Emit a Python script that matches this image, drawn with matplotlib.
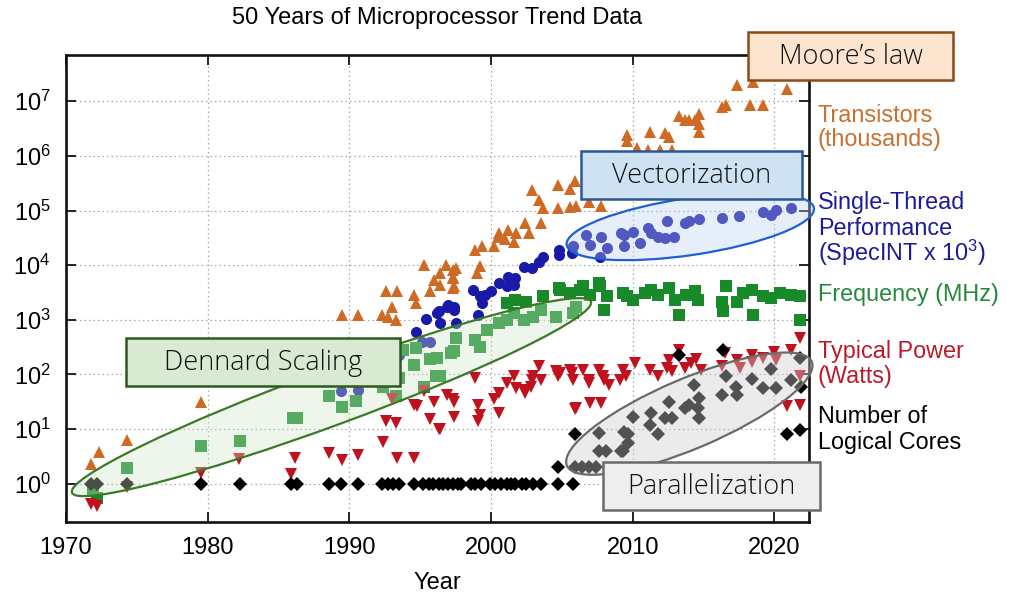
import matplotlib
matplotlib.use('Agg')
import matplotlib.pyplot as plt
from matplotlib.patches import Ellipse, Rectangle
from matplotlib.transforms import IdentityTransform

plt.rcParams['font.family'] = ['Liberation Sans', 'DejaVu Sans']
plt.rcParams['mathtext.fontset'] = 'custom'
plt.rcParams['mathtext.rm'] = 'Liberation Sans'
plt.rcParams['mathtext.it'] = 'Liberation Sans:italic'
plt.rcParams['mathtext.bf'] = 'Liberation Sans:bold'

# ---------------- data ----------------
trans_year = [1971.8, 1972.3, 1974.3, 1979.5, 1989.5, 1990.6, 1992.3, 1992.6, 1992.7, 1993.0,
              1993.3, 1993.4, 1994.6, 1994.7, 1995.3, 1995.7, 1996.0, 1996.4, 1996.4, 1996.8,
              1997.3, 1997.3, 1997.3, 1997.5, 1997.3, 1997.4, 1998.9, 1999.0, 1999.2, 1999.4,
              2000.2, 2000.5, 2000.6, 2001.0, 2001.2, 2001.6, 2001.8, 2002.4, 2002.7, 2003.5,
              2002.9, 2003.4, 2003.7, 2004.7, 2004.7, 2005.6, 2005.9, 2005.6, 2006.0, 2006.9,
              2007.8, 2009.6, 2009.6, 2010.3, 2011.2, 2011.1, 2011.9, 2012.3, 2012.6, 2012.8,
              2013.3, 2013.7, 2014.0, 2014.4, 2014.7, 2014.7, 2014.7, 2016.3, 2016.6, 2017.4,
              2018.5, 2018.3, 2019.2, 2020.9]
trans_val = [2.3, 3.8, 6.4, 31, 1230, 1230, 1230, 3400, 1150, 1700,
             1000, 3400, 2900, 2000, 10000, 3400, 5400, 7100, 4400, 10000,
             8200, 5800, 3800, 8800, 6200, 4100, 19000, 7300, 9700, 22000,
             22000, 33000, 39000, 30000, 44000, 27000, 39000, 59000, 39000, 59000,
             235000, 155000, 110000, 295000, 110000, 245000, 340000, 117000, 120000, 145000,
             120000, 2.4e6, 1.9e6, 1.4e6, 2.7e6, 1.26e6, 1.26e6, 2.6e6, 2.2e6, 1.3e6,
             5.4e6, 4.5e6, 4.5e6, 4.5e6, 5.9e6, 3.9e6, 2.7e6, 7.7e6, 8.5e6, 2.0e7,
             2.2e7, 8.5e6, 8.5e6, 1.7e7]

perf_year = [1989.4, 1990.6, 1993.5, 1994.7, 1995.1, 1995.7, 1995.4, 1996.2, 1996.3, 1996.4,
             1996.9, 1997.0, 1997.4, 1997.4, 1997.5, 1998.7, 1999.2, 1999.4, 1999.1, 1999.6,
             2000.0, 2000.6, 2001.1, 2001.2, 2001.6, 2001.7, 2002.3, 2002.9, 2003.4, 2003.7,
             2004.8, 2004.8, 2005.7, 2005.8, 2006.7, 2007.0, 2007.7, 2007.8, 2008.2, 2009.2,
             2009.4, 2009.4, 2010.0, 2010.5, 2011.1, 2011.3, 2011.8, 2012.3, 2012.4, 2012.9,
             2013.7, 2014.0, 2014.7, 2016.3, 2017.5, 2019.2, 2019.8, 2020.1, 2021.2]
perf_val = [49, 53, 230, 600, 400, 400, 1030, 1320, 1420, 870,
            1750, 1900, 1750, 1520, 870, 3500, 2700, 2000, 1230, 2900,
            3300, 4700, 4100, 6200, 4400, 5800, 9400, 8800, 11600, 14400,
            19000, 15500, 16600, 22000, 35600, 23500, 14400, 33000, 20400, 38000,
            22000, 35600, 41000, 25000, 47000, 38000, 33000, 32000, 63000, 33000,
            59000, 63000, 69000, 74000, 79000, 95000, 83000, 102000, 110000]

freq_year = [1971.9, 1972.2, 1974.3, 1979.5, 1982.3, 1986.0, 1986.3, 1988.6, 1989.5, 1990.5,
             1992.4, 1993.3, 1993.5, 1993.8, 1994.6, 1994.7, 1995.3, 1995.7, 1996.1, 1996.4,
             1996.2, 1997.2, 1997.4, 1997.5, 1998.9, 1999.2, 1999.7, 2000.6, 2001.1, 2001.6,
             2002.3, 2003.0, 2003.5, 2004.6, 2005.8, 2006.0, 2001.1, 2001.7, 2002.5, 2003.7,
             2004.8, 2004.9, 2005.6, 2006.3, 2006.5, 2007.0, 2007.6, 2007.7, 2008.0, 2008.2,
             2009.3, 2009.6, 2010.0, 2010.9, 2011.3, 2011.8, 2012.6, 2013.0, 2013.3, 2013.8,
             2014.4, 2014.6, 2016.3, 2016.4, 2016.6, 2017.4, 2017.8, 2018.4, 2018.5, 2019.2,
             2019.8, 2020.4, 2021.2, 2021.8, 2021.8]
freq_val = [0.73, 0.55, 1.96, 5, 6, 16, 16, 40, 25, 33,
            60, 40, 87, 280, 150, 300, 60, 190, 92, 92,
            200, 250, 265, 460, 435, 325, 660, 870, 1000, 1320,
            1000, 1150, 1520, 1150, 1320, 1750, 2000, 2300, 2150, 2700,
            3800, 3500, 3100, 3500, 4100, 2900, 4700, 4100, 1520, 2700,
            3100, 2700, 2300, 3100, 3500, 2900, 3800, 2300, 1230, 2900,
            3300, 2300, 2150, 1420, 4100, 2150, 3100, 3500, 1230, 2700,
            2500, 3100, 2900, 2700, 1000]

power_year = [1971.8, 1972.2, 1974.3, 1979.5, 1982.2, 1985.9, 1986.2, 1988.6, 1989.5, 1990.6,
              1992.4, 1992.6, 1993.0, 1993.3, 1993.4, 1994.6, 1994.6, 1994.8, 1995.3, 1995.7,
              1996.0, 1996.3, 1996.4, 1996.9, 1997.3, 1997.4, 1997.4, 1998.9, 1999.1, 1999.1,
              1999.2, 2000.2, 2000.6, 2000.6, 2001.1, 2001.6, 2001.8, 2002.3, 2002.4, 2002.8,
              2002.9, 2003.0, 2003.4, 2003.5, 2004.6, 2004.7, 2004.9, 2005.6, 2005.7, 2005.8,
              2005.9, 2006.0, 2006.5, 2006.9, 2006.9, 2007.0, 2007.6, 2007.8, 2007.9, 2008.0,
              2008.3, 2009.1, 2009.3, 2009.5, 2010.2, 2011.2, 2011.8, 2012.4, 2012.6, 2012.8,
              2013.3, 2013.7, 2014.1, 2014.5, 2014.8, 2016.3, 2016.5, 2017.4, 2017.6, 2018.4,
              2018.4, 2019.2, 2020.0, 2020.1, 2021.2, 2021.8, 2021.8, 2020.9, 2021.8]
power_val = [0.42, 0.39, 0.88, 1.6, 2.9, 1.5, 3.0, 3.7, 2.7, 3.3,
             5.7, 14, 35, 13, 3.0, 3.0, 28, 26, 49, 15.5,
             32, 10, 10, 43, 35, 17, 32, 87, 28, 14,
             18.5, 35, 46, 20, 70, 92, 56, 53, 46, 60,
             80, 92, 145, 80, 115, 92, 107, 123, 107, 80,
             23, 24, 123, 70, 80, 30, 123, 30, 92, 80,
             65, 80, 123, 92, 162, 123, 92, 132, 186, 115,
             283, 132, 162, 195, 123, 140, 245, 186, 132, 230,
             170, 200, 263, 186, 283, 465, 92, 26, 28]

cores_year = [1971.8, 1972.2, 1974.3, 1979.5, 1982.3, 1985.9, 1986.3, 1988.6, 1989.4, 1990.6,
              1992.3, 1992.7, 1993.1, 1993.5, 1994.6, 1995.2, 1995.6, 1995.9, 1996.3, 1996.6,
              1997.0, 1997.3, 1997.7, 1997.9, 1998.6, 1998.9, 1999.3, 1999.9, 2000.3, 2000.7,
              2001.1, 2001.4, 2001.7, 2002.2, 2002.5, 2003.0, 2003.5, 2004.7, 2005.8,
              2004.7, 2005.9, 2005.9, 2006.4, 2006.9, 2007.4, 2007.6, 2007.6, 2008.1, 2009.2,
              2009.3, 2009.4, 2009.7, 2009.7, 2010.0, 2011.2, 2011.3, 2011.8, 2012.3, 2012.8,
              2012.6, 2013.3, 2013.7, 2014.0, 2014.7, 2014.6, 2014.7, 2014.3, 2016.3, 2016.4,
              2016.6, 2017.3, 2017.4, 2018.4, 2019.2, 2019.8, 2020.1, 2021.2, 2021.8, 2021.9,
              2020.9, 2021.8]
cores_val = [1, 1, 1, 1, 1, 1, 1, 1, 1, 1,
             1, 1, 1, 1, 1, 1, 1, 1, 1, 1,
             1, 1, 1, 1, 1, 1, 1, 1, 1, 1,
             1, 1, 1, 1, 1, 1, 1, 1, 1,
             2, 8.2, 2, 2, 2, 2, 4, 8.5, 4, 4,
             4, 9, 8, 5.6, 17, 12, 20, 8, 16, 16,
             32, 230, 24.5, 28, 37, 24, 16, 65, 43, 283,
             92, 60, 43, 83, 56, 126, 56, 80, 200, 60,
             8, 9.8]

series_labels = [["Transistors", "(thousands)"],
                 ["Single-Thread", "Performance", "(SpecINT x 10$^3$)"],
                 ["Frequency (MHz)"],
                 ["Typical Power", "(Watts)"],
                 ["Number of", "Logical Cores"]]
year_ticks = [1970, 1980, 1990, 2000, 2010, 2020]
decade_ticks = [1, 10, 100, 1e3, 1e4, 1e5, 1e6, 1e7]

# ---------------- style ----------------
ORANGE = '#cf6a24'
BLUE = '#1a1aa8'
GREEN = '#188a2a'
RED = '#c0111e'
BLACK = '#000000'
label_colors = ['#c8702e', '#1c1c98', '#24893a', '#bb1a2a', '#000000']

W, H = 1012, 597
fig = plt.figure(figsize=(W / 100, H / 100), dpi=100)
ax = fig.add_axes([66 / W, 1 - 522 / H, (809 - 66) / W, (522 - 55) / H])
ax.set_yscale('log')
ax.set_xlim(1970, 2022.45)
ax.set_ylim(0.2, 7e7)

ax.plot(trans_year, trans_val, ls='none', marker='^', ms=8, mew=0, color=ORANGE, zorder=3)
ax.plot(perf_year, perf_val, ls='none', marker='o', ms=8, mew=0, color=BLUE, zorder=3)
ax.plot(freq_year, freq_val, ls='none', marker='s', ms=8, mew=0, color=GREEN, zorder=3)
ax.plot(power_year, power_val, ls='none', marker='v', ms=8, mew=0, color=RED, zorder=3)
ax.plot(cores_year, cores_val, ls='none', marker='D', ms=6.8, mew=0, color=BLACK, zorder=3)

ax.set_xticks(year_ticks)
ax.set_xticklabels([str(y) for y in year_ticks])
ax.set_yticks(decade_ticks)
ax.set_yticklabels([r'$\mathregular{10^{%d}}$' % i for i in range(len(decade_ticks))])
ax.minorticks_off()
ax.tick_params(which='major', direction='in', length=7, width=1.4, labelsize=17,
               top=True, right=True, color='#222222')
ax.tick_params(axis='x', pad=11)
ax.tick_params(axis='y', pad=11)
for s in ax.spines.values():
    s.set_linewidth(1.9)
    s.set_color('#111111')
ax.grid(True, which='major', color='#a8a8a8', lw=0.9, ls=(0, (1.2, 2.4)))
ax.set_axisbelow(True)

fig.text(437 / W, 1 - 18 / H, '50 Years of Microprocessor Trend Data', ha='center', va='center',
         fontsize=17)
fig.text(437 / W, 1 - 583 / H, 'Year', ha='center', va='center', fontsize=17)

# ellipses (anchored on data coordinates, sized in pixels)
ellipses = [
    (1988.74, 38.5, 553, 56, 20.2, (0.81, 0.90, 0.79, 0.35), '#3a7a26'),
    (2014.07, 51000, 250, 57, 8.5, (0.72, 0.81, 0.95, 0.35), '#1f5fd4'),
    (2014.0, 19.2, 266, 70, 23.0, (0.81, 0.81, 0.81, 0.40), '#6a6a6a'),
]
for cx, cy, w, h, ang, fc, ec in ellipses:
    px, py = ax.transData.transform((cx, cy))
    e = Ellipse((px, py), w, h, angle=ang, transform=IdentityTransform(),
                facecolor=fc, edgecolor=ec, lw=1.6, zorder=4, clip_on=False)
    ax.add_artist(e)

# annotation boxes (image pixel coords)
boxes = [
    (748, 32, 953, 80, '#fde4cf', '#8a4b14', "Moore\u2019s law"),
    (581, 151, 802, 199, '#cfe2f3', '#2b5797', 'Vectorization'),
    (126, 338, 400, 386, '#d9ead3', '#2d5a1e', 'Dennard Scaling'),
    (603, 462, 820, 510, '#eeeeee', '#6a6a6a', 'Parallelization'),
]
for x0, y0, x1, y1, fc, ec, txt in boxes:
    r = Rectangle((x0, H - y1), x1 - x0, y1 - y0, transform=IdentityTransform(),
                  facecolor=fc, edgecolor=ec, lw=1.8, zorder=6)
    fig.add_artist(r)
    fig.text((x0 + x1) / 2, H - (y0 + y1) / 2 - 1, txt, transform=IdentityTransform(),
             ha='center', va='center', fontsize=19.5, family=['Open Sans', 'DejaVu Sans'],
             weight='light', color='#111111', zorder=7)

# right-hand labels
baselines = [[121.7, 146.5], [209, 235, 261], [300.7], [358, 383.5], [423, 448.5]]
for lines, bls, col in zip(series_labels, baselines, label_colors):
    for t, b in zip(lines, bls):
        fig.text(818 / W, 1 - b / H, t, ha='left', va='baseline', fontsize=16.8, color=col)

fig.savefig('out.png', dpi=100)
